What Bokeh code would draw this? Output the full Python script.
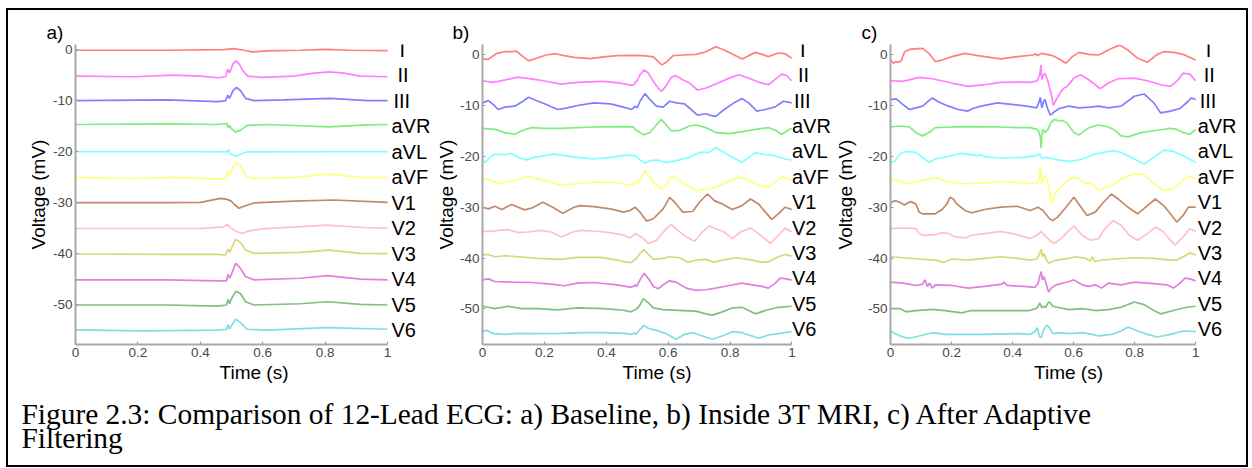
from bokeh.plotting import figure
from bokeh.models import ColumnDataSource, LabelSet, FixedTicker, Range1d
from bokeh.layouts import row, column
from bokeh.embed import file_html
from bokeh.resources import INLINE
from bokeh.core.properties import value

LEADS = ["I", "II", "III", "aVR", "aVL", "aVF", "V1", "V2", "V3", "V4", "V5", "V6"]
OFFSETS = [0, -5, -10, -15, -20, -25, -30, -35, -40, -45, -50, -55]
COLORS = ["#ff7f7f", "#ff7fff", "#7f7fff", "#7fee7f", "#7fffff", "#ffff7f",
          "#c08a6a", "#ffbfcf", "#d8d878", "#e07fe0", "#7fbf7f", "#7fdfdf"]
X_TICKS = [0, 0.2, 0.4, 0.6, 0.8, 1]
X_TICK_LABELS = ["0", "0.2", "0.4", "0.6", "0.8", "1"]
Y_TICKS = [0, -10, -20, -30, -40, -50]
Y_TICK_LABELS = ["0", "-10", "-20", "-30", "-40", "-50"]
PANEL_TAGS = ["a)", "b)", "c)"]
CAPTION_LINES = ["Figure 2.3: Comparison of 12-Lead ECG: a) Baseline, b) Inside 3T MRI, c) After Adaptive",
                 "Filtering"]

# ---- panel a (baseline): (time s, deviation mV from lead offset)
a_I = [(0, -0.13), (0.29, -0.13), (0.475, 0.0), (0.508, 0.19), (0.540, -0.13), (0.566, -0.45), (0.614, -0.26),
       (0.721, -0.13), (0.801, 0.06), (0.881, -0.13), (1.0, -0.19)]
a_II = [(0, -0.19), (0.187, -0.32), (0.315, 0.0), (0.401, -0.19), (0.459, -0.52), (0.481, -0.32), (0.488, 1.17),
        (0.493, 0.45), (0.497, 0.84), (0.504, 2.14), (0.514, 2.78), (0.525, 2.14), (0.537, 0.84), (0.552, -0.19),
        (0.593, -0.45), (0.700, -0.19), (0.764, 0.39), (0.812, 0.65), (0.860, 0.39), (0.913, -0.19), (1.0, -0.32)]
a_III = [(0, 0.0), (0.294, 0.13), (0.454, -0.19), (0.481, -0.06), (0.488, 1.10), (0.493, 0.45), (0.497, 0.91),
         (0.505, 1.94), (0.516, 2.59), (0.529, 1.94), (0.545, 0.45), (0.572, 0.0), (0.668, 0.13), (0.817, 0.45),
         (0.935, 0.0), (1.0, 0.0)]
a_aVR = [(0, 0.32), (0.294, 0.45), (0.454, 0.32), (0.486, 0.52), (0.489, -0.32), (0.493, 0.13), (0.497, -0.32),
         (0.513, -1.17), (0.529, -0.78), (0.550, 0.13), (0.614, 0.32), (0.812, -0.13), (0.935, 0.26), (1.0, 0.32)]
a_aVL = [(0, 0.0), (0.401, 0.0), (0.486, -0.06), (0.490, 0.45), (0.494, -0.32), (0.513, -0.97), (0.529, -0.52),
         (0.550, -0.06), (0.8, 0.0), (1.0, 0.0)]
a_aVF = [(0, -0.06), (0.187, -0.26), (0.315, -0.06), (0.454, -0.39), (0.481, -0.26), (0.488, 1.23), (0.493, 0.58),
         (0.497, 0.91), (0.514, 2.85), (0.529, 2.20), (0.545, 0.26), (0.572, -0.26), (0.700, -0.06), (0.812, 0.58),
         (0.913, -0.06), (1.0, -0.06)]
a_V1 = [(0, 0.0), (0.294, 0.0), (0.401, 0.06), (0.465, 0.84), (0.481, 0.71), (0.497, 0.39), (0.508, -0.26),
        (0.524, -1.10), (0.540, -0.71), (0.572, -0.06), (0.700, 0.32), (0.828, 0.52), (1.0, 0.06)]
a_V2 = [(0, -0.06), (0.401, -0.06), (0.475, 0.26), (0.488, 0.71), (0.497, 0.06), (0.516, -0.65), (0.535, -1.04),
        (0.556, -0.52), (0.600, -0.13), (0.807, 0.58), (0.920, 0.13), (1.0, 0.0)]
a_V3 = [(0, -0.06), (0.294, -0.13), (0.454, -0.13), (0.481, -0.26), (0.489, 0.91), (0.494, 0.26), (0.499, 0.91),
        (0.513, 2.85), (0.529, 2.20), (0.545, 0.71), (0.572, 0.06), (0.721, 0.26), (0.812, 0.71), (0.913, 0.06),
        (1.0, 0.0)]
a_V4 = [(0, -0.13), (0.294, -0.13), (0.454, -0.32), (0.484, -0.32), (0.489, 0.97), (0.494, 0.19), (0.499, 0.84),
        (0.513, 3.11), (0.527, 2.27), (0.545, 0.52), (0.572, -0.13), (0.721, 0.19), (0.807, 0.71), (0.913, 0.0),
        (1.0, -0.13)]
a_V5 = [(0, -0.06), (0.294, -0.06), (0.454, -0.26), (0.484, -0.06), (0.489, 1.04), (0.494, 0.19), (0.499, 1.04),
        (0.514, 2.65), (0.529, 2.14), (0.545, 0.58), (0.572, -0.06), (0.721, 0.19), (0.807, 0.58), (0.913, 0.06),
        (1.0, -0.06)]
a_V6 = [(0, 0.06), (0.208, -0.13), (0.454, 0.0), (0.484, 0.19), (0.489, 1.04), (0.494, 0.19), (0.499, 0.84),
        (0.514, 2.14), (0.529, 1.49), (0.550, 0.19), (0.614, 0.0), (0.807, 0.52), (1.0, 0.19)]

# ---- panel b (inside 3T MRI)
b_I = [(0, -0.84), (0.019, -0.91), (0.046, 0.26), (0.072, 0.58), (0.094, 0.58), (0.110, 0.71), (0.131, -0.39),
       (0.149, -1.23), (0.174, -0.71), (0.206, -0.06), (0.237, 0.19), (0.264, -0.19), (0.296, -0.52), (0.349, -0.78),
       (0.392, -0.45), (0.435, -0.19), (0.488, -0.13), (0.520, -0.19), (0.552, -0.45), (0.568, -1.36), (0.580, -2.01),
       (0.594, -1.49), (0.616, -0.19), (0.647, -0.06), (0.690, 0.06), (0.722, 0.58), (0.754, 1.56), (0.781, 0.91),
       (0.807, 0.13), (0.839, -0.84), (0.860, -0.19), (0.882, 0.45), (0.903, 0.06), (0.924, -0.39), (0.956, 0.32),
       (0.978, 0.19), (0.999, -0.71)]
b_II = [(0, -0.13), (0.03, -0.45), (0.051, -0.26), (0.115, 0.58), (0.179, 0.06), (0.254, -0.78), (0.307, -0.45),
        (0.392, -0.26), (0.445, -0.58), (0.482, -1.04), (0.490, -0.91), (0.494, -0.39), (0.5, -0.13), (0.509, 1.04),
        (0.523, 2.01), (0.536, 1.36), (0.552, -0.26), (0.568, -1.56), (0.579, -2.21), (0.592, -1.23), (0.610, 0.52),
        (0.624, 0.91), (0.647, 0.06), (0.669, -0.58), (0.695, -1.95), (0.722, -1.56), (0.754, -0.78), (0.797, 0.39),
        (0.829, 1.04), (0.860, 0.39), (0.892, -0.39), (0.924, -0.91), (0.951, 0.39), (0.967, 1.17), (0.983, 0.91),
        (0.999, -0.13)]
b_III = [(0, 0.52), (0.019, 0.97), (0.035, 0.19), (0.051, -0.78), (0.072, -0.32), (0.104, -0.13), (0.131, 0.84),
         (0.149, 1.62), (0.174, 0.97), (0.206, 0.19), (0.243, -0.78), (0.275, -0.45), (0.307, 0.0), (0.360, 0.52),
         (0.413, 0.32), (0.456, -0.32), (0.482, -0.78), (0.488, -0.45), (0.493, -0.13), (0.5, -0.45), (0.509, 0.84),
         (0.525, 2.34), (0.541, 1.17), (0.562, -0.13), (0.584, -0.32), (0.605, 0.84), (0.626, 0.52), (0.653, 0.32),
         (0.674, -0.78), (0.695, -1.88), (0.722, -1.62), (0.733, -1.88), (0.754, -2.14), (0.781, -0.78),
         (0.813, 0.52), (0.839, 1.36), (0.860, 0.52), (0.887, -1.10), (0.914, -0.78), (0.946, -0.26), (0.972, 0.84),
         (0.999, 0.52)]
b_aVR = [(0, 0.52), (0.040, 0.32), (0.072, -0.32), (0.104, -0.65), (0.131, 0.13), (0.158, 0.65), (0.200, 0.52),
         (0.254, 0.52), (0.307, 0.65), (0.360, 0.78), (0.413, 0.78), (0.456, 0.84), (0.488, 0.78), (0.493, 0.32),
         (0.509, -0.32), (0.520, -0.78), (0.541, -0.32), (0.562, 1.17), (0.578, 2.27), (0.594, 1.17), (0.610, 0.0),
         (0.637, 0.13), (0.669, 0.97), (0.690, 1.17), (0.722, 0.65), (0.754, -0.32), (0.797, -0.52), (0.839, -0.13),
         (0.882, 0.32), (0.924, 0.65), (0.946, 0.13), (0.967, -0.65), (0.988, 0.13), (0.999, 0.52)]
b_aVL = [(0, -0.71), (0.009, -1.17), (0.024, -0.19), (0.040, 0.45), (0.072, 0.32), (0.094, 0.58), (0.120, -0.32),
         (0.141, -0.71), (0.168, -0.19), (0.200, 0.13), (0.232, 0.45), (0.264, 0.13), (0.307, -0.19), (0.360, -0.52),
         (0.413, -0.19), (0.456, 0.13), (0.488, 0.26), (0.498, -0.06), (0.509, -0.71), (0.525, -1.36), (0.541, -0.84),
         (0.562, -0.71), (0.594, -1.23), (0.626, -0.84), (0.669, -0.19), (0.701, 0.78), (0.733, 0.78), (0.754, 1.75),
         (0.781, 0.78), (0.807, -0.19), (0.839, -1.17), (0.860, -0.19), (0.882, 0.71), (0.914, 0.32), (0.946, 0.13),
         (0.978, -0.52), (0.999, -0.71)]
b_aVF = [(0, 0.26), (0.014, 0.58), (0.035, 0.13), (0.051, -0.39), (0.072, -0.06), (0.104, 0.26), (0.147, 1.04),
         (0.179, 0.58), (0.221, -0.06), (0.254, -0.71), (0.307, -0.39), (0.360, -0.06), (0.434, -0.19), (0.482, -0.71),
         (0.490, -0.39), (0.496, 0.13), (0.504, -0.26), (0.514, 1.04), (0.525, 2.08), (0.541, 0.91), (0.562, -0.71),
         (0.578, -1.36), (0.594, -0.71), (0.605, 0.71), (0.621, 0.91), (0.642, -0.06), (0.669, -1.04), (0.695, -1.82),
         (0.722, -1.36), (0.733, -1.56), (0.765, -0.71), (0.797, 0.13), (0.829, 0.91), (0.860, 0.39), (0.892, -0.71),
         (0.924, -1.04), (0.951, 0.13), (0.967, 1.04), (0.988, 0.58), (0.999, 0.13)]
b_V1 = [(0, 0.0), (0.019, -0.32), (0.040, 0.19), (0.062, -0.45), (0.094, 0.52), (0.136, -0.52), (0.158, -0.19),
        (0.195, 0.97), (0.227, 0.0), (0.259, -1.17), (0.296, 0.0), (0.317, 0.32), (0.360, 0.13), (0.413, -0.32),
        (0.456, -0.97), (0.477, -0.65), (0.493, 0.0), (0.509, -0.97), (0.530, -2.73), (0.552, -2.27), (0.584, -0.32),
        (0.605, 1.95), (0.626, 0.65), (0.647, -0.97), (0.679, -0.84), (0.701, 0.97), (0.727, 2.60), (0.749, 1.30),
        (0.775, 0.65), (0.807, -0.45), (0.839, 0.32), (0.866, 1.62), (0.892, 0.65), (0.914, -0.97), (0.935, -2.40),
        (0.956, -1.30), (0.978, 0.0), (0.999, -0.45)]
b_V2 = [(0, 0.26), (0.030, 0.26), (0.051, 0.45), (0.083, 0.58), (0.115, 0.0), (0.147, 0.13), (0.190, 0.45),
        (0.221, 0.13), (0.254, -0.84), (0.291, 0.13), (0.317, 0.45), (0.360, 0.32), (0.413, 0.0), (0.456, -0.52),
        (0.477, -1.04), (0.493, -0.19), (0.504, -0.52), (0.520, -1.17), (0.536, -2.14), (0.562, -1.49), (0.594, 0.78),
        (0.610, 1.56), (0.631, 0.45), (0.658, -0.84), (0.685, -1.69), (0.711, 0.13), (0.733, 1.30), (0.754, 0.78),
        (0.781, 0.13), (0.807, -1.17), (0.834, 0.13), (0.866, 0.91), (0.892, -0.19), (0.919, -1.49), (0.930, -2.14),
        (0.956, -0.52), (0.978, 0.91), (0.999, 0.13)]
b_V3 = [(0, 0.58), (0.019, 0.71), (0.040, 0.26), (0.072, 0.45), (0.115, 0.26), (0.179, -0.06), (0.254, -0.26),
        (0.307, 0.13), (0.381, 0.13), (0.434, -0.39), (0.466, -0.84), (0.482, -0.84), (0.490, -0.39), (0.496, -0.19),
        (0.509, 0.91), (0.522, 1.69), (0.536, 0.71), (0.552, -0.26), (0.584, -0.06), (0.605, 0.26), (0.637, 0.06),
        (0.663, -0.84), (0.690, -0.39), (0.722, -0.26), (0.749, -0.84), (0.775, -0.39), (0.818, 0.06), (0.860, -0.26),
        (0.903, -0.84), (0.924, -0.71), (0.956, 0.26), (0.978, 0.71), (0.999, 0.39)]
b_V4 = [(0, 0.71), (0.019, 0.91), (0.040, 0.39), (0.094, 0.26), (0.158, 0.19), (0.221, -0.13), (0.264, -0.45),
        (0.307, 0.06), (0.360, 0.19), (0.434, -0.26), (0.477, -0.71), (0.488, -0.58), (0.493, -0.26), (0.498, -0.58),
        (0.509, 0.71), (0.523, 2.01), (0.539, 0.71), (0.552, -0.58), (0.568, -1.04), (0.584, -0.26), (0.605, 0.52),
        (0.626, 0.26), (0.658, -0.91), (0.690, -1.36), (0.722, -1.23), (0.754, -0.91), (0.797, -0.39), (0.839, 0.06),
        (0.871, -0.26), (0.903, -0.58), (0.924, -0.91), (0.946, 0.06), (0.962, 1.04), (0.983, 0.91), (0.999, 0.65)]
b_V5 = [(0, 0.52), (0.019, 0.32), (0.040, 0.06), (0.083, 0.52), (0.126, 0.06), (0.179, 0.06), (0.243, -0.19),
        (0.307, 0.19), (0.392, 0.06), (0.456, -0.26), (0.479, -0.58), (0.488, -0.32), (0.494, -0.13), (0.504, 0.32),
        (0.520, 2.01), (0.536, 1.17), (0.552, 0.19), (0.584, -0.13), (0.647, -0.32), (0.690, -0.45), (0.722, -0.97),
        (0.743, -1.23), (0.775, -0.58), (0.807, 0.19), (0.839, 0.32), (0.860, -0.32), (0.882, -0.97), (0.914, -0.32),
        (0.956, 0.32), (0.999, 0.52)]
b_V6 = [(0, 0.52), (0.014, 0.78), (0.035, 0.13), (0.072, 0.0), (0.115, 0.19), (0.179, 0.13), (0.254, 0.19),
        (0.328, 0.32), (0.392, 0.32), (0.456, 0.19), (0.482, 0.0), (0.490, 0.26), (0.496, 0.0), (0.509, 0.97),
        (0.522, 1.75), (0.536, 1.17), (0.562, 0.78), (0.594, 0.13), (0.626, -0.97), (0.653, 0.0), (0.679, 0.32),
        (0.711, -0.32), (0.743, -0.97), (0.775, -0.32), (0.807, 0.52), (0.839, 0.32), (0.871, -0.32), (0.892, -0.78),
        (0.924, -0.13), (0.956, 0.13), (0.999, 0.52)]

# ---- panel c (after adaptive filtering)
c_I = [(0, -1.04), (0.009, -1.69), (0.017, -1.36), (0.024, -1.49), (0.035, -1.23), (0.046, 0.58), (0.067, 1.10),
       (0.105, 1.23), (0.126, 0.26), (0.147, -1.36), (0.169, -1.04), (0.201, -0.39), (0.244, 0.26), (0.286, -0.19),
       (0.361, -0.84), (0.415, -0.39), (0.468, -0.06), (0.476, 0.19), (0.481, -0.19), (0.489, 0.06), (0.494, 0.26),
       (0.511, 0.06), (0.532, -0.19), (0.553, -0.84), (0.575, -1.69), (0.596, -0.39), (0.618, 0.45), (0.650, 0.06),
       (0.682, -0.06), (0.724, 1.23), (0.751, 1.88), (0.778, 0.91), (0.810, -0.71), (0.842, -1.49), (0.874, 0.06),
       (0.895, 0.58), (0.927, 0.45), (0.959, 0.06), (1.0, -1.04)]
c_II = [(0, -0.13), (0.041, -0.26), (0.094, 0.52), (0.137, 0.26), (0.201, -0.58), (0.254, -1.23), (0.308, -0.91),
        (0.361, -0.45), (0.415, -0.39), (0.457, -0.45), (0.481, -0.13), (0.489, 1.04), (0.493, 2.99), (0.496, 0.06),
        (0.500, 0.91), (0.506, 1.36), (0.516, -0.26), (0.526, -2.53), (0.534, -5.0), (0.543, -3.83), (0.559, -2.21),
        (0.569, -1.56), (0.580, -1.23), (0.601, 0.39), (0.623, 1.04), (0.650, 0.06), (0.671, -0.91), (0.687, -1.69),
        (0.714, -0.58), (0.746, 0.26), (0.799, 0.39), (0.842, -0.13), (0.885, -0.91), (0.917, -1.23), (0.938, -0.26),
        (0.959, 1.36), (0.981, 1.17), (1.0, -0.13)]
c_III = [(0, 1.17), (0.019, 1.30), (0.041, 0.19), (0.062, -0.78), (0.083, -0.45), (0.105, -0.13), (0.137, 1.49),
         (0.158, 0.71), (0.190, -0.13), (0.222, -0.78), (0.254, -1.10), (0.270, -0.58), (0.297, -0.13), (0.350, 0.52),
         (0.404, 0.19), (0.447, -0.13), (0.479, -0.45), (0.487, 0.71), (0.491, 1.62), (0.496, -0.45), (0.502, 0.84),
         (0.506, 1.17), (0.516, -0.78), (0.524, -1.88), (0.537, -1.23), (0.553, -0.58), (0.585, -0.13), (0.617, -0.45),
         (0.655, -0.32), (0.682, -0.13), (0.714, -0.45), (0.756, -0.13), (0.799, 1.82), (0.831, 2.27), (0.863, 0.52),
         (0.885, -1.43), (0.917, -1.10), (0.949, -0.58), (0.976, 0.84), (0.986, 1.49), (1.0, 1.17)]
c_aVR = [(0, 0.78), (0.030, 0.97), (0.062, 0.78), (0.088, -0.52), (0.105, -0.97), (0.126, -0.32), (0.147, 0.65),
         (0.201, 0.78), (0.254, 0.84), (0.308, 0.78), (0.361, 0.78), (0.415, 0.65), (0.457, 0.65), (0.481, 0.32),
         (0.487, -0.32), (0.491, -1.30), (0.494, -3.4), (0.496, -0.65), (0.500, 0.32), (0.506, -0.32), (0.516, 0.32),
         (0.526, 1.62), (0.537, 2.27), (0.553, 1.95), (0.564, 2.08), (0.580, 1.43), (0.601, -0.32), (0.618, -0.78),
         (0.650, 0.65), (0.682, 1.17), (0.714, 0.78), (0.735, 0.13), (0.756, -0.97), (0.778, -1.17), (0.821, -0.32),
         (0.874, 0.13), (0.917, 0.52), (0.938, 0.32), (0.959, -0.32), (0.981, -0.65), (1.0, 0.32)]
c_aVL = [(0, -1.17), (0.014, -0.97), (0.030, 0.45), (0.051, 0.97), (0.083, 0.78), (0.105, -0.19), (0.126, -1.17),
         (0.147, -0.52), (0.201, 0.13), (0.233, 0.58), (0.286, 0.13), (0.297, 0.32), (0.308, -0.06), (0.361, -0.32),
         (0.436, -0.19), (0.479, 0.13), (0.489, 0.45), (0.496, -0.32), (0.511, -0.19), (0.532, -0.52), (0.564, -0.84),
         (0.596, -0.97), (0.628, -0.52), (0.671, 0.45), (0.714, 0.97), (0.735, 1.10), (0.756, 0.78), (0.799, -0.52),
         (0.831, -1.49), (0.863, -0.19), (0.895, 1.23), (0.927, 0.97), (0.959, 0.13), (1.0, -1.17)]
c_aVF = [(0, 0.39), (0.030, 0.13), (0.051, -0.39), (0.094, 0.13), (0.147, 0.78), (0.179, 0.13), (0.233, -0.39),
         (0.308, -0.26), (0.361, 0.06), (0.436, -0.26), (0.479, -0.39), (0.487, 0.58), (0.491, 3.0), (0.496, -0.39),
         (0.502, 0.91), (0.509, 1.23), (0.517, -0.39), (0.527, -4.2), (0.543, -2.0), (0.569, -0.39), (0.596, 0.91),
         (0.618, 0.58), (0.639, -0.39), (0.655, -0.19), (0.671, -1.04), (0.682, -1.69), (0.703, -1.17), (0.735, -0.39),
         (0.756, 0.58), (0.799, 1.56), (0.831, 1.43), (0.863, -0.39), (0.895, -1.69), (0.927, -1.36), (0.959, 0.26),
         (0.975, 1.23), (1.0, 0.58)]
c_V1 = [(0, 0.84), (0.014, 1.30), (0.030, 0.97), (0.046, 0.45), (0.056, 0.84), (0.067, 1.10), (0.083, 0.65),
        (0.094, -0.97), (0.105, -1.30), (0.147, -1.30), (0.169, -0.45), (0.185, 0.65), (0.195, 1.95), (0.206, 1.62),
        (0.217, 0.65), (0.244, -0.65), (0.265, -1.10), (0.308, -0.45), (0.361, 0.0), (0.415, 0.19), (0.457, -0.65),
        (0.484, 0.0), (0.500, -0.65), (0.521, -2.27), (0.532, -2.60), (0.548, -1.95), (0.575, 0.0), (0.601, 1.95),
        (0.628, -0.32), (0.644, -1.62), (0.671, -0.97), (0.698, 0.97), (0.724, 2.60), (0.746, 1.62), (0.778, 0.0),
        (0.810, -1.30), (0.842, 0.32), (0.868, 1.62), (0.895, 0.32), (0.917, -1.30), (0.938, -2.92), (0.959, -1.62),
        (0.976, 0.0), (1.0, 0.0)]
c_V2 = [(0, 0.78), (0.041, 0.91), (0.083, 0.78), (0.094, -0.19), (0.105, -0.52), (0.147, -0.39), (0.169, 0.0),
        (0.190, -0.19), (0.212, -0.84), (0.244, -1.04), (0.265, -0.52), (0.308, -0.19), (0.361, 0.26), (0.415, -0.39),
        (0.457, -1.17), (0.484, -0.39), (0.494, 0.26), (0.505, -0.52), (0.521, -1.49), (0.537, -2.14), (0.559, -1.17),
        (0.585, 0.45), (0.601, 1.30), (0.628, -0.52), (0.655, -1.49), (0.682, -1.17), (0.703, 0.78), (0.730, 2.40),
        (0.756, 1.43), (0.783, -0.52), (0.810, -1.49), (0.842, -0.19), (0.868, 1.10), (0.895, 0.13), (0.917, -1.49),
        (0.933, -2.47), (0.959, -0.84), (0.981, 0.78), (1.0, 0.26)]
c_V3 = [(0, 0.26), (0.041, 0.06), (0.094, -0.19), (0.147, -0.39), (0.174, -0.84), (0.201, -0.19), (0.254, -0.39),
        (0.308, -0.06), (0.361, 0.26), (0.415, -0.06), (0.457, -0.39), (0.479, -0.19), (0.489, 0.91), (0.494, 1.75),
        (0.498, 0.26), (0.503, 0.91), (0.511, -0.39), (0.519, -1.04), (0.543, -0.39), (0.585, -0.06), (0.607, 0.26),
        (0.639, -0.06), (0.655, -0.58), (0.662, 0.26), (0.669, -0.71), (0.692, -0.39), (0.735, -0.19), (0.799, 0.06),
        (0.863, -0.06), (0.917, -0.39), (0.938, -0.39), (0.959, 0.26), (0.981, 1.04), (1.0, 0.58)]
c_V4 = [(0, 0.26), (0.041, 0.06), (0.083, -0.39), (0.105, -0.13), (0.113, 0.71), (0.121, -0.58), (0.128, 0.06),
        (0.137, -0.91), (0.147, -0.26), (0.201, -0.39), (0.254, -0.91), (0.308, -0.58), (0.366, -0.13), (0.372, 0.26),
        (0.382, -0.39), (0.436, -0.58), (0.473, -0.78), (0.484, 0.06), (0.489, 1.36), (0.494, 2.34), (0.498, 0.71),
        (0.503, 1.36), (0.511, -0.26), (0.518, -1.69), (0.527, -0.91), (0.543, -0.26), (0.585, 0.39), (0.601, 0.71),
        (0.628, -0.26), (0.650, -0.58), (0.671, -0.26), (0.692, -0.91), (0.714, 0.06), (0.756, -0.26), (0.799, 0.26),
        (0.842, 0.06), (0.906, -0.26), (0.927, -0.91), (0.949, 0.06), (0.965, 1.04), (0.981, 0.91), (1.0, 0.52)]
c_V5 = [(0, 0.06), (0.030, 0.06), (0.051, -0.58), (0.083, -0.32), (0.126, -0.13), (0.147, -0.13), (0.179, -0.32),
        (0.233, -0.78), (0.265, -0.32), (0.308, -0.32), (0.361, -0.32), (0.415, -0.32), (0.457, -0.32), (0.481, 0.19),
        (0.489, 1.17), (0.496, 0.19), (0.503, 0.52), (0.509, 0.32), (0.516, 1.17), (0.521, 1.36), (0.532, 0.52),
        (0.548, 0.32), (0.585, -0.13), (0.628, 0.06), (0.671, -0.32), (0.714, -0.13), (0.756, 0.32), (0.799, 1.36),
        (0.831, 0.84), (0.863, -0.32), (0.885, -0.97), (0.927, -0.32), (0.970, 0.32), (1.0, 0.52)]
c_V6 = [(0, 0.65), (0.019, 0.0), (0.041, -0.52), (0.062, -0.78), (0.094, -0.32), (0.137, 0.32), (0.179, 0.0),
        (0.254, 0.0), (0.308, 0.0), (0.415, 0.13), (0.457, 0.0), (0.473, 0.52), (0.481, 1.30), (0.485, 0.32),
        (0.489, -0.52), (0.494, -0.65), (0.500, 0.65), (0.511, 1.82), (0.521, 1.30), (0.532, 0.13), (0.553, 0.32),
        (0.585, 0.13), (0.628, 0.32), (0.660, 0.0), (0.682, -0.32), (0.724, 0.0), (0.756, 0.65), (0.778, 1.43),
        (0.810, 0.65), (0.842, 0.0), (0.874, -0.52), (0.917, 0.0), (0.959, 0.65), (1.0, 0.52)]

PANEL_A = [a_I, a_II, a_III, a_aVR, a_aVL, a_aVF, a_V1, a_V2, a_V3, a_V4, a_V5, a_V6]
PANEL_B = [b_I, b_II, b_III, b_aVR, b_aVL, b_aVF, b_V1, b_V2, b_V3, b_V4, b_V5, b_V6]
PANEL_C = [c_I, c_II, c_III, c_aVR, c_aVL, c_aVF, c_V1, c_V2, c_V3, c_V4, c_V5, c_V6]

# label horizontal nudges (px) for the short names I, II, III
LABEL_EXTRA = [8, 6, 2, 0, 0, 0, 0, 0, 0, 0, 0, 0]
SANS = "Liberation Sans"


def make_panel(tag, traces, y_lo, y_hi, x_hi, width, b_left, lab_dx, lab_dy, tag_off, ylab_standoff):
    p = figure(width=width, height=375, x_range=Range1d(0, x_hi), y_range=Range1d(y_lo, y_hi),
               output_backend="svg", toolbar_location=None,
               min_border_left=b_left, min_border_right=0, min_border_top=34, min_border_bottom=38)
    p.outline_line_color = None
    p.grid.visible = False
    p.background_fill_color = "white"
    p.border_fill_color = "white"
    p.title.text = tag
    p.title.align = "left"
    p.title.vertical_align = "top"
    p.title.offset = tag_off
    p.title.standoff = 0
    p.title.text_font = SANS
    p.title.text_font_size = "19px"
    p.title.text_font_style = "normal"
    p.title.text_color = "black"
    for off, col, pts in zip(OFFSETS, COLORS, traces):
        t = [q[0] for q in pts]
        v = [off + q[1] for q in pts]
        p.line(t, v, line_color=col, line_width=1.7)
    src = ColumnDataSource(dict(x=[1.0] * len(LEADS), y=OFFSETS, text=LEADS,
                                dx=[lab_dx + e for e in LABEL_EXTRA]))
    p.add_layout(LabelSet(x="x", y="y", text="text", source=src, x_offset="dx", y_offset=lab_dy,
                          text_baseline="middle", text_align="left", text_font=value(SANS),
                          text_font_size="20px", text_color="black"))
    xa = p.xaxis[0]
    ya = p.yaxis[0]
    xa.bounds = (0, 1)
    xa.ticker = FixedTicker(ticks=X_TICKS)
    xa.major_label_overrides = {k: s for k, s in zip(X_TICKS, X_TICK_LABELS)}
    ya.ticker = FixedTicker(ticks=Y_TICKS)
    ya.major_label_overrides = {k: s for k, s in zip(Y_TICKS, Y_TICK_LABELS)}
    xa.axis_label = "Time (s)"
    ya.axis_label = "Voltage (mV)"
    for ax in (xa, ya):
        ax.axis_line_color = "#a8a8a8"
        ax.axis_line_width = 2
        ax.major_tick_line_color = "#a0a0a0"
        ax.major_tick_line_width = 1.2
        ax.major_tick_in = 3
        ax.major_tick_out = 0
        ax.minor_tick_line_color = None
        ax.major_label_text_font = SANS
        ax.major_label_text_font_size = "13.5px"
        ax.major_label_text_color = "#4a4a4a"
        ax.major_label_standoff = 3
        ax.axis_label_text_font = SANS
        ax.axis_label_text_font_size = "19px"
        ax.axis_label_text_font_style = "normal"
        ax.axis_label_text_color = "black"
    xa.axis_label_standoff = 2
    ya.axis_label_standoff = ylab_standoff
    return p


# figure a: x 8..432, frame from 75; b: 432..831, frame from 478; c: 831..1246, frame from 882
pa = make_panel(PANEL_TAGS[0], PANEL_A, -57.8, 1.0, (432 - 75) / 312, 424, 67, 4, 0, -29, 1)
pb = make_panel(PANEL_TAGS[1], PANEL_B, -57.0, 2.0, (831 - 478) / 313, 399, 46, 0, 5, -30, 0)
pc = make_panel(PANEL_TAGS[2], PANEL_C, -57.0, 2.0, (1246 - 882) / 312, 415, 51, 2, 5, -29, 9)

cap = figure(width=1238, height=80, x_range=Range1d(0, 1238), y_range=Range1d(0, 80),
             x_axis_type=None, y_axis_type=None, min_border=0,
             output_backend="svg", toolbar_location=None)
cap.outline_line_color = None
cap.grid.visible = False
cap.text(x=[13, 13], y=[52, 28], text=CAPTION_LINES, text_font=value("Liberation Serif"),
         text_font_size="29.4px", text_color="black", text_baseline="alphabetic", text_align="left")

layout = column(row(pa, pb, pc), cap,
                styles={"border": "2px solid black", "margin-left": "6px", "margin-top": "8px"})

open("out.html", "w").write(file_html(layout, INLINE))
